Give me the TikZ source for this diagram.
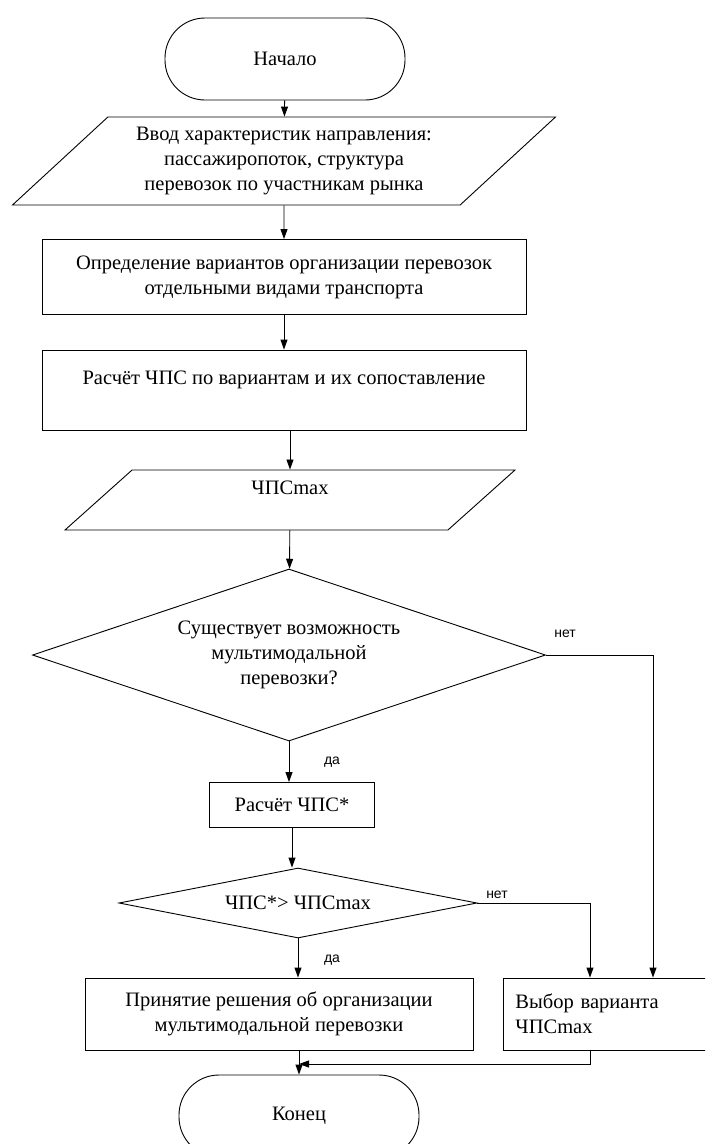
\documentclass[tikz,border=0pt]{standalone}
\usepackage{fontspec}
\setmainfont{Liberation Serif}
\newfontfamily\labelfont{Liberation Sans}
\usetikzlibrary{shapes.geometric}
\usetikzlibrary{arrows.meta}

\begin{document}
\begin{tikzpicture}[x=1pt, y=-1pt, line width=0.9pt,
    every node/.style={font=\fontsize{20.5}{25}\selectfont, line width=0.9pt},
    terminal/.style={draw, rectangle, rounded corners=40pt, minimum width=240pt, minimum height=82pt},
    io/.style={draw, trapezium, trapezium stretches body, align=center},
    process/.style={draw, rectangle, align=center},
    decision/.style={draw, diamond, align=center, inner sep=0pt},
    answer/.style={font=\labelfont\fontsize{14}{16}\selectfont},
    flow/.style={-{Triangle[length=10pt,width=7pt]}}]
            \useasboundingbox (0,0) rectangle (705,1144);
            \clip (0,0) rectangle (705,1144);
            \node[terminal] (start) at (285,59) {Начало};
            \node[io, trapezium left angle=38, trapezium right angle=142, minimum width=543pt, minimum height=88pt] (input) at (284,161) {Ввод характеристик направления:\\пассажиропоток, структура\\перевозок по участникам рынка};
            \node[process, minimum width=484pt, minimum height=75pt] (variants) at (284,277) {Определение вариантов организации перевозок\\отдельными видами транспорта};
            \node[process, minimum width=484pt, minimum height=80pt] (npv) at (284,390) {Расчёт ЧПС по вариантам и их сопоставление\\\mbox{}};
            \node[io, trapezium left angle=34, trapezium right angle=146, minimum width=450pt, minimum height=60pt] (npvmax) at (290,500) {ЧПСmax\\\mbox{}};
            \node[decision, shape aspect=3, minimum width=513pt, minimum height=172pt] (possible) at (289,655) {Существует возможность\\мультимодальной\\перевозки?};
            \node[process, minimum width=165pt, minimum height=45pt] (npvstar) at (292,805) {Расчёт ЧПС*};
            \node[decision, shape aspect=5, minimum width=358pt, minimum height=70pt] (compare) at (298,903) {ЧПС*> ЧПСmax};
            \node[process, minimum width=388pt, minimum height=72pt] (accept) at (279,1014) {Принятие решения об организации\\мультимодальной перевозки};
            \node[process, anchor=west, align=left, text width=191pt, minimum width=215pt, minimum height=72pt] (choice) at (503,1014) {Выбор варианта\\ЧПСmax};
            \node[terminal] (finish) at (299,1116) {Конец};
            \coordinate (merge) at (299,1064);

            \node[answer] (no1) at (565,634) {нет};
            \node[answer] (yes1) at (332,762) {да};
            \node[answer] (no2) at (497,895) {нет};
            \node[answer] (yes2) at (332,960) {да};

            \draw[flow] (start) -- (input);
            \draw[flow] (input) -- (variants);
            \draw[flow] (variants) -- (npv);
            \draw[flow] (npv.south -| npvmax.north) -- (npvmax.north);
            \draw[flow] (npvmax) -- (possible);
            \draw[flow] (possible.south) -- (possible.south |- npvstar.north);
            \draw[flow] (possible.east) -| ([xshift=150pt]choice.north west);
            \draw[flow] (npvstar.south) -- (npvstar.south |- compare.north);
            \draw[flow] (compare.south) -- (compare.south |- accept.north);
            \draw[flow] (compare.east) -| ([xshift=87pt]choice.north west);
            \draw[flow] (finish.north |- accept.south) -- (finish.north);
            \draw[flow] ([xshift=87pt]choice.south west) |- (merge);
        \end{tikzpicture}
\end{document}
